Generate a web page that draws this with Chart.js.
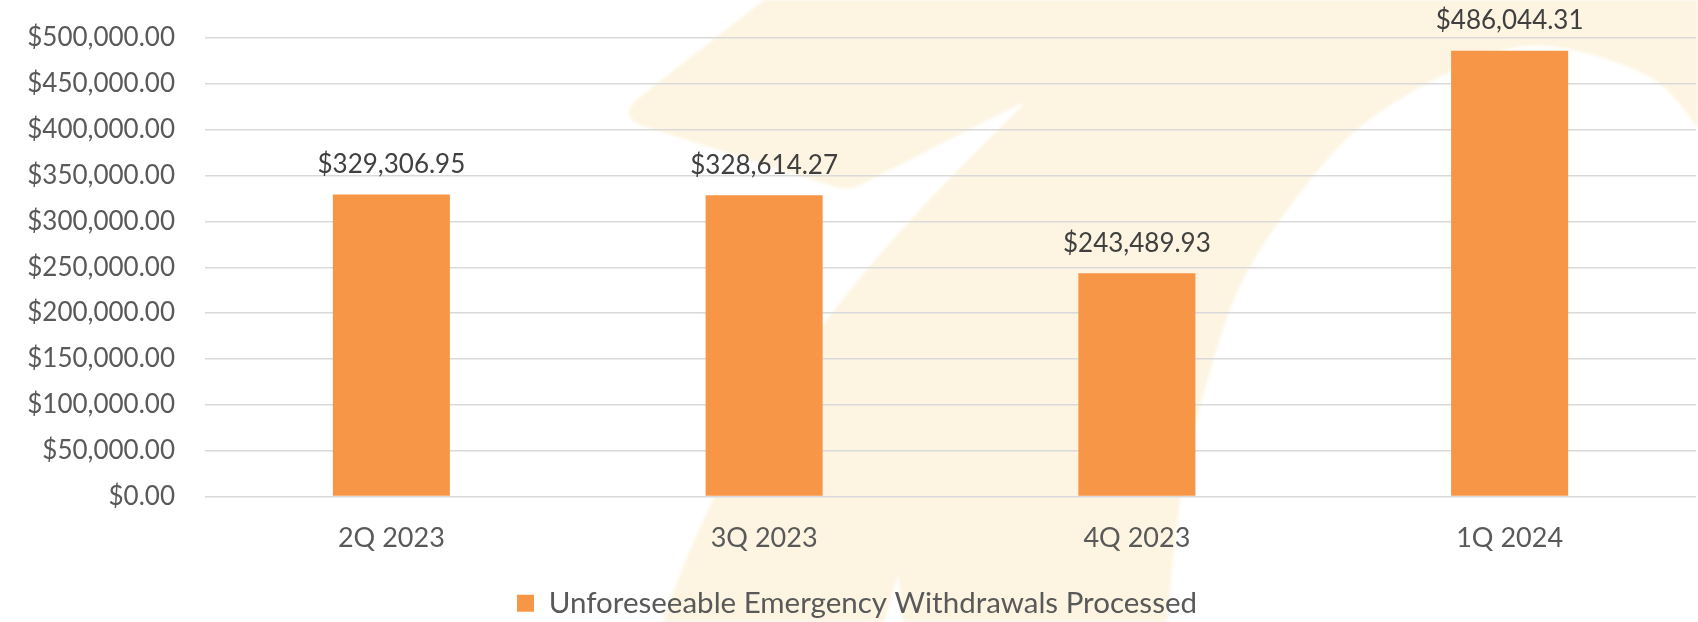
<!DOCTYPE html>
<html>
<head>
<meta charset="utf-8">
<title>Unforeseeable Emergency Withdrawals Processed</title>
<script src="https://cdn.jsdelivr.net/npm/chart.js@4.4.1/dist/chart.umd.min.js"></script>
<style>
  html, body { margin: 0; padding: 0; background: #ffffff; }
  #wrap { width: 1698px; height: 622px; position: relative; }
</style>
</head>
<body>
<div id="wrap"><canvas id="bar-chart"></canvas></div>
<script>
const quarters = ["2Q 2023", "3Q 2023", "4Q 2023", "1Q 2024"];
const withdrawals = [329306.95, 328614.27, 243489.93, 486044.31];
const seriesName = "Unforeseeable Emergency Withdrawals Processed";
const yMax = 500000;
const yStep = 50000;

const FONT = "Lato, 'Open Sans', sans-serif";

function money(v) {
  return "$" + Number(v).toLocaleString("en-US", { minimumFractionDigits: 2, maximumFractionDigits: 2 });
}

// smooth curve through a list of points (catmull-rom -> bezier)
function smoothThrough(ctx, pts) {
  for (let i = 0; i < pts.length - 1; i++) {
    const p0 = pts[i - 1] || pts[i];
    const p1 = pts[i];
    const p2 = pts[i + 1];
    const p3 = pts[i + 2] || p2;
    ctx.bezierCurveTo(
      p1[0] + (p2[0] - p0[0]) / 6, p1[1] + (p2[1] - p0[1]) / 6,
      p2[0] - (p3[0] - p1[0]) / 6, p2[1] - (p3[1] - p1[1]) / 6,
      p2[0], p2[1]
    );
  }
}

// faint logo swoosh behind the plot
const watermark = {
  id: "watermark",
  beforeDraw(chart) {
    const ctx = chart.ctx;
    const sx = chart.width / 1698, sy = chart.height / 622;
    ctx.save();
    ctx.scale(sx, sy);
    ctx.filter = "blur(1.5px)";
    ctx.fillStyle = "#fdf5e2";
    ctx.beginPath();
    ctx.moveTo(764, 0);
    ctx.lineTo(1698, 0);
    ctx.lineTo(1698, 128);
    smoothThrough(ctx, [[1698, 128], [1650, 77], [1555, 47], [1483, 57], [1383, 110],
      [1320, 168], [1250, 267], [1215, 355], [1183, 483], [1167, 622]]);
    ctx.lineTo(903, 622);
    ctx.lineTo(898, 574);
    ctx.lineTo(884, 622);
    ctx.lineTo(663, 622);
    ctx.bezierCurveTo(740, 390, 900, 225, 1018, 110);
    ctx.quadraticCurveTo(1032, 98, 1012, 108);
    ctx.lineTo(862, 184);
    ctx.quadraticCurveTo(847, 192, 832, 186);
    ctx.lineTo(640, 125);
    ctx.quadraticCurveTo(620, 116, 636, 100);
    ctx.closePath();
    ctx.fill();
    ctx.restore();
  },
  afterLayout(chart) {
    // nudge the legend a little right of centre
    chart.legend.left += 9;
    chart.legend.right += 9;
  }
};

// value printed above each bar
const barValues = {
  id: "barValues",
  afterDatasetsDraw(chart) {
    const ctx = chart.ctx;
    const meta = chart.getDatasetMeta(0);
    ctx.save();
    ctx.font = "26px " + FONT;
    ctx.fillStyle = "#404040";
    ctx.textAlign = "center";
    ctx.textBaseline = "middle";
    meta.data.forEach((bar, i) => {
      ctx.fillText(money(chart.data.datasets[0].data[i]), bar.x, bar.y - 30);
    });
    ctx.restore();
  }
};

new Chart(document.getElementById("bar-chart"), {
  type: "bar",
  data: {
    labels: quarters,
    datasets: [{
      label: seriesName,
      data: withdrawals,
      backgroundColor: "#f79646",
      borderWidth: 0,
      barPercentage: 0.314,
      categoryPercentage: 1.0
    }]
  },
  options: {
    responsive: true,
    maintainAspectRatio: false,
    animation: false,
    layout: { padding: { top: 38, right: 2, left: 0, bottom: -6 } },
    plugins: {
      tooltip: { enabled: false },
      legend: {
        position: "bottom",
        labels: {
          boxWidth: 17,
          boxHeight: 17,
          padding: 0,
          color: "#595959",
          font: { family: FONT, size: 29.5 }
        }
      }
    },
    scales: {
      x: {
        grid: { display: false, drawTicks: false },
        border: { display: false },
        ticks: { color: "#595959", padding: 26, font: { family: FONT, size: 27 } },
        afterFit(scale) { scale.height = 92; }
      },
      y: {
        min: 0,
        max: yMax,
        grid: { color: "#d9d9d9", lineWidth: 1.5, drawTicks: false },
        border: { display: false },
        ticks: {
          stepSize: yStep,
          padding: 30,
          color: "#595959",
          font: { family: FONT, size: 26 },
          callback: (v) => money(v)
        },
        afterFit(scale) {
          scale.width = 205;
          scale.paddingTop = 0;
          scale.paddingBottom = 0;
        }
      }
    }
  },
  plugins: [watermark, barValues]
});
</script>
</body>
</html>
